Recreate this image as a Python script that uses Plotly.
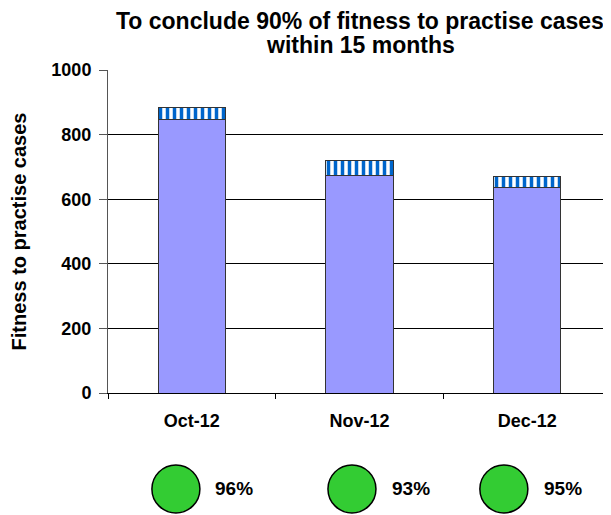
import plotly.graph_objects as go

# values
months = ["Oct-12", "Nov-12", "Dec-12"]
concluded_in_time = [847, 672, 636]
concluded_late = [37, 49, 34]
pct_labels = ["96%", "93%", "95%"]
title_lines = ["To conclude 90% of fitness to practise cases", "within 15 months"]

font_family = "Liberation Sans, Arial, sans-serif"

# page has an 8px body margin, so the figure is drawn 8px smaller
W, H = 603, 507

fig = go.Figure()
fig.add_trace(go.Bar(
    x=months, y=concluded_in_time,
    marker=dict(color="#9999FF", line=dict(color="#333333", width=1)),
    width=0.4, showlegend=False,
))
fig.add_trace(go.Bar(
    x=months, y=concluded_late,
    marker=dict(
        color="white",
        line=dict(color="#333333", width=1),
        pattern=dict(shape="|", fgcolor="#0066CC", bgcolor="white", fgopacity=1,
                     size=7, solidity=0.5, fillmode="overlay"),
    ),
    width=0.4, showlegend=False,
))

fig.update_layout(
    width=W, height=H,
    barmode="stack",
    paper_bgcolor="white", plot_bgcolor="white",
    margin=dict(l=100, r=0, t=62, b=122),
    font=dict(family=font_family, size=18, color="black", weight="bold"),
)

# title lines as annotations so both stay on the page
for ty, line in zip([1.152, 1.078], title_lines):
    fig.add_annotation(
        text=line, x=0.501, y=ty, xref="paper", yref="paper",
        xanchor="center", yanchor="middle", showarrow=False,
        font=dict(size=23, family=font_family, weight="bold"),
    )

fig.update_xaxes(
    showline=True, linecolor="black", linewidth=1,
    ticks="outside", ticklen=5, tickcolor="black", tickson="boundaries",
    ticklabelstandoff=11,
    tickfont=dict(size=18, weight="bold"),
)
fig.update_yaxes(
    range=[0, 1000], dtick=200,
    showline=True, linecolor="#555555", linewidth=1,
    ticks="outside", ticklen=8, tickcolor="#555555",
    ticklabelstandoff=4,
    showgrid=True, gridcolor="black", gridwidth=1,
    tickfont=dict(size=18, weight="bold"),
    title=dict(text="Fitness to practise cases", font=dict(size=20, weight="bold"), standoff=22),
)

# green status circles with percentage labels under the chart
circle_x = [0.135, 0.485, 0.787]
label_x = [0.209, 0.561, 0.863]
for cx, lx, txt in zip(circle_x, label_x, pct_labels):
    fig.add_shape(
        type="circle", xref="paper", yref="paper",
        xsizemode="pixel", ysizemode="pixel",
        xanchor=cx, yanchor=-0.297,
        x0=-24, x1=24, y0=-24, y1=24,
        fillcolor="#33CC33", line=dict(color="black", width=1.5),
    )
    fig.add_annotation(
        x=lx, y=-0.297, xref="paper", yref="paper",
        text=txt, showarrow=False, xanchor="left", yanchor="middle",
        font=dict(size=19, weight="bold"),
    )

fig.write_html("out.html")
